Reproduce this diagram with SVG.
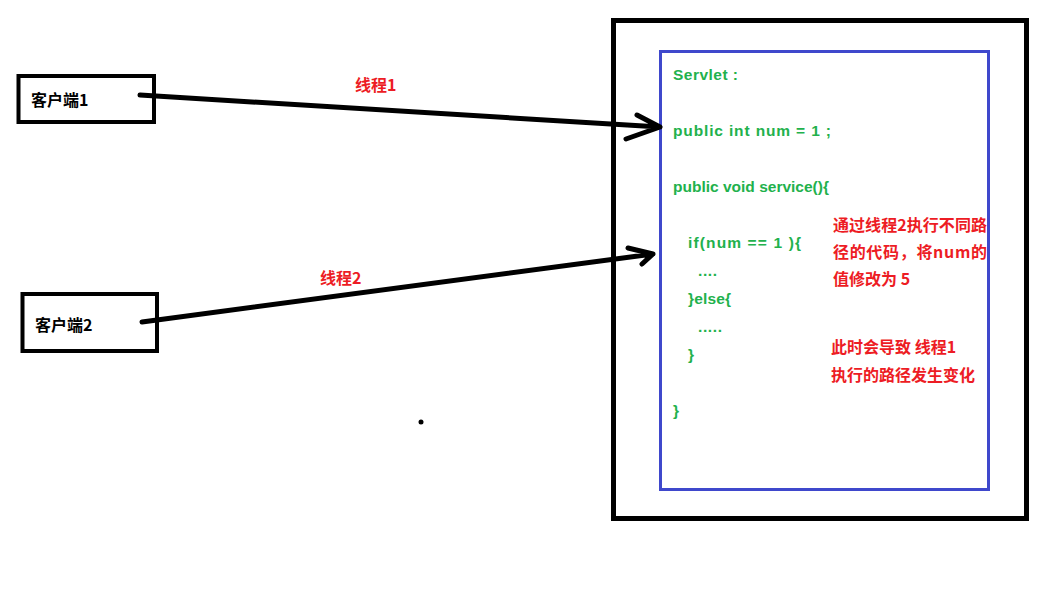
<svg xmlns="http://www.w3.org/2000/svg" width="1059" height="604" viewBox="0 0 1059 604">
<style>
.box{fill:none;stroke:#000;stroke-width:4}
.cli{font-family:"Noto Sans CJK SC","Liberation Sans",sans-serif;font-weight:bold;font-size:16px;fill:#000}
.code{font-family:"Liberation Sans","Noto Sans CJK SC",sans-serif;font-weight:bold;font-size:15.5px;fill:#22b14c}
.red{font-family:"Noto Sans CJK SC","Liberation Sans",sans-serif;font-weight:bold;font-size:16px;fill:#ed1c24}
.conn{fill:none;stroke:#000;stroke-width:5;stroke-linecap:round;stroke-linejoin:round}
</style>
<rect width="1059" height="604" fill="#fff"/>
<g id="server">
<rect x="613.5" y="20.5" width="413" height="498" fill="none" stroke="#000" stroke-width="5"/>
</g>
<g id="servlet">
<rect x="660.5" y="51.5" width="328" height="438" fill="none" stroke="#3f48cc" stroke-width="3"/>
<text class="code" x="673" y="80" textLength="65" lengthAdjust="spacing">Servlet :</text>
<text class="code" x="673" y="136" textLength="158" lengthAdjust="spacing">public int num = 1 ;</text>
<text class="code" x="673" y="192" textLength="156" lengthAdjust="spacing">public void service(){</text>
<text class="code" x="688" y="248" textLength="113" lengthAdjust="spacing">if(num == 1 ){</text>
<text class="code" x="698" y="276" textLength="19" lengthAdjust="spacing">....</text>
<text class="code" x="688" y="304" textLength="43" lengthAdjust="spacing">}else{</text>
<text class="code" x="698" y="332" textLength="24" lengthAdjust="spacing">.....</text>
<text class="code" x="688" y="360">}</text>
<text class="code" x="673" y="416">}</text>
</g>
<g id="note1">
<text class="red" x="833" y="231" textLength="154" lengthAdjust="spacing">通过线程2执行不同路</text>
<text class="red" x="833" y="258" textLength="154" lengthAdjust="spacing">径的代码，将num的</text>
<text class="red" x="833" y="285">值修改为 5</text>
</g>
<g id="note2">
<text class="red" x="831" y="353">此时会导致 线程1</text>
<text class="red" x="831" y="381">执行的路径发生变化</text>
</g>
<g id="client1">
<rect class="box" x="18.5" y="76" width="135.5" height="46"/>
<text class="cli" x="31" y="106">客户端1</text>
</g>
<g id="client2">
<rect class="box" x="22.5" y="294" width="134.5" height="57"/>
<text class="cli" x="35" y="331">客户端2</text>
</g>
<g id="connectors">
<path class="conn" d="M140 95 L660 127 M637 115 L660 127 L626 139"/>
<path class="conn" d="M142 322 L653 254 M628 248 L653 254 L642 264"/>
<text class="red" x="355" y="91">线程1</text>
<text class="red" x="320" y="284">线程2</text>
</g>
<circle cx="421" cy="422" r="2.5" fill="#000"/>
</svg>
